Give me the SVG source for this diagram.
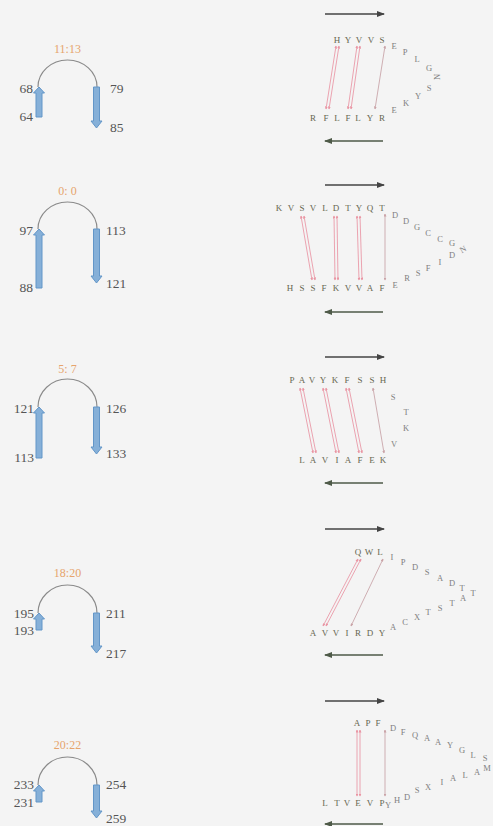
<svg xmlns="http://www.w3.org/2000/svg" width="493" height="826" viewBox="0 0 493 826">
<defs>
<marker id="ah" markerWidth="8" markerHeight="6" refX="7" refY="3" orient="auto" markerUnits="userSpaceOnUse"><path d="M0,0 L8,3 L0,6 z" fill="#444"/></marker>
<marker id="ahg" markerWidth="8" markerHeight="6" refX="7" refY="3" orient="auto" markerUnits="userSpaceOnUse"><path d="M0,0 L8,3 L0,6 z" fill="#4e5a48"/></marker>
<marker id="pm" markerWidth="3" markerHeight="3" refX="2.5" refY="1.5" orient="auto-start-reverse" markerUnits="userSpaceOnUse"><path d="M0,0 L3,1.5 L0,3 z" fill="#e994a2"/></marker>
<marker id="gm" markerWidth="3" markerHeight="3" refX="2.5" refY="1.5" orient="auto-start-reverse" markerUnits="userSpaceOnUse"><path d="M0,0 L3,1.5 L0,3 z" fill="#c9a2a6"/></marker>
</defs>
<style>
.num{font-family:"Liberation Serif",serif;font-size:13.5px;fill:#555}
.nl{text-anchor:end}
.lab{font-family:"Liberation Serif",serif;font-size:12px;fill:#e6a46c;text-anchor:middle}
.arc{fill:none;stroke:#8a8a8a;stroke-width:1.2}
.bl{fill:#86b0d8;stroke:#6396c8;stroke-width:1}
.top{stroke:#444;stroke-width:1.3;marker-end:url(#ah)}
.bot{stroke:#4e5a48;stroke-width:1.3;marker-end:url(#ahg)}
.s{font-family:"Liberation Serif",serif;font-size:9px;fill:#666650;text-anchor:middle}
.l{font-family:"Liberation Serif",serif;font-size:8.5px;fill:#808080;text-anchor:middle}
.p{stroke:#ea9aa8;stroke-width:0.9;fill:none;marker-start:url(#pm);marker-end:url(#pm)}
.g{stroke:#caa6aa;stroke-width:0.9;fill:none;marker-start:url(#gm);marker-end:url(#gm)}
</style>
<rect width="493" height="826" fill="#f4f4f4"/>

<g id="topo1">
<text class="lab" x="67.5" y="53">11:13</text>
<path class="arc" d="M38,87 A29.5,27 0 0 1 97,87"/>
<polygon class="bl" points="36,117 42,117 42,93 44.5,93 39,87 33.5,93 36,93"/>
<polygon class="bl" points="93.5,87 99.5,87 99.5,121 102,121 96.5,128 91,121 93.5,121"/>
<text class="num nl" x="33" y="93">68</text>
<text class="num nl" x="33" y="121">64</text>
<text class="num" x="110" y="93">79</text>
<text class="num" x="110" y="132">85</text>
</g>

<g id="topo2">
<text class="lab" x="67.5" y="195">0: 0</text>
<path class="arc" d="M38,229 A29.5,27 0 0 1 97,229"/>
<polygon class="bl" points="36,288 42,288 42,235 44.5,235 39,229 33.5,235 36,235"/>
<polygon class="bl" points="93.5,229 99.5,229 99.5,276 102,276 96.5,283 91,276 93.5,276"/>
<text class="num nl" x="33" y="235">97</text>
<text class="num nl" x="33" y="292">88</text>
<text class="num" x="106" y="235">113</text>
<text class="num" x="106" y="288">121</text>
</g>

<g id="topo3">
<text class="lab" x="67.5" y="373">5: 7</text>
<path class="arc" d="M38,407 A29.5,28 0 0 1 97,407"/>
<polygon class="bl" points="36,458 42,458 42,413 44.5,413 39,407 33.5,413 36,413"/>
<polygon class="bl" points="93.5,407 99.5,407 99.5,447 102,447 96.5,454 91,447 93.5,447"/>
<text class="num nl" x="34" y="413">121</text>
<text class="num nl" x="34" y="462">113</text>
<text class="num" x="106" y="413">126</text>
<text class="num" x="106" y="458">133</text>
</g>

<g id="topo4">
<text class="lab" x="67.5" y="577">18:20</text>
<path class="arc" d="M38,613 A29.5,28 0 0 1 97,613"/>
<polygon class="bl" points="36,630 42,630 42,619 44.5,619 39,613 33.5,619 36,619"/>
<polygon class="bl" points="93.5,613 99.5,613 99.5,646 102,646 96.5,653 91,646 93.5,646"/>
<text class="num nl" x="34" y="618">195</text>
<text class="num nl" x="34" y="635">193</text>
<text class="num" x="106" y="618">211</text>
<text class="num" x="106" y="658">217</text>
</g>

<g id="topo5">
<text class="lab" x="67.5" y="749">20:22</text>
<path class="arc" d="M38,785 A29.5,28 0 0 1 97,785"/>
<polygon class="bl" points="36,802 42,802 42,791 44.5,791 39,785 33.5,791 36,791"/>
<polygon class="bl" points="93.5,785 99.5,785 99.5,811 102,811 96.5,818 91,811 93.5,811"/>
<text class="num nl" x="34" y="789">233</text>
<text class="num nl" x="34" y="807">231</text>
<text class="num" x="106" y="789">254</text>
<text class="num" x="106" y="823">259</text>
</g>

<g id="seq1">
<text class="s" x="337" y="43">H</text><text class="s" x="348" y="43">Y</text><text class="s" x="359" y="43">V</text><text class="s" x="371" y="43">V</text><text class="s" x="382" y="43">S</text>
<text class="l" x="394" y="49">E</text><text class="l" x="405" y="55">P</text><text class="l" x="417" y="62">L</text><text class="l" x="429" y="71">G</text>
<text class="l" x="440" y="77" transform="rotate(-90 440 77)">N</text>
<text class="l" x="429" y="91">S</text><text class="l" x="418" y="99">Y</text><text class="l" x="406" y="106">K</text><text class="l" x="394" y="113">E</text>
<text class="s" x="313" y="121">R</text><text class="s" x="326" y="121">F</text><text class="s" x="337" y="121">L</text><text class="s" x="348" y="121">F</text><text class="s" x="358" y="121">L</text><text class="s" x="370" y="121">Y</text><text class="s" x="382" y="121">R</text>
</g>

<g id="seq2">
<text class="s" x="279" y="211">K</text><text class="s" x="291" y="211">V</text><text class="s" x="302" y="211">S</text><text class="s" x="313" y="211">V</text><text class="s" x="325" y="211">L</text><text class="s" x="336" y="211">D</text><text class="s" x="348" y="211">T</text><text class="s" x="359" y="211">Y</text><text class="s" x="370" y="211">Q</text><text class="s" x="382" y="211">T</text>
<text class="l" x="395" y="218">D</text><text class="l" x="406" y="224">D</text><text class="l" x="417" y="230">G</text><text class="l" x="428" y="236">C</text><text class="l" x="440" y="242">C</text><text class="l" x="452" y="246">G</text>
<text class="l" x="463" y="252" transform="rotate(-30 463 249)">N</text>
<text class="l" x="452" y="258">D</text><text class="l" x="440" y="265">I</text><text class="l" x="428" y="271">F</text><text class="l" x="418" y="276">S</text><text class="l" x="407" y="281">R</text><text class="l" x="395" y="288">E</text>
<text class="s" x="290" y="291">H</text><text class="s" x="302" y="291">S</text><text class="s" x="313" y="291">S</text><text class="s" x="324" y="291">F</text><text class="s" x="336" y="291">K</text><text class="s" x="348" y="291">V</text><text class="s" x="359" y="291">V</text><text class="s" x="370" y="291">A</text><text class="s" x="382" y="291">F</text>
</g>

<g id="seq3">
<text class="s" x="292" y="383">P</text><text class="s" x="302" y="383">A</text><text class="s" x="312" y="383">V</text><text class="s" x="323" y="383">Y</text><text class="s" x="335" y="383">K</text><text class="s" x="347" y="383">F</text><text class="s" x="360" y="383">S</text><text class="s" x="372" y="383">S</text><text class="s" x="383" y="383">H</text>
<text class="l" x="393" y="400">S</text><text class="l" x="406" y="415">T</text><text class="l" x="406" y="431">K</text><text class="l" x="394" y="447">V</text>
<text class="s" x="302" y="463">L</text><text class="s" x="313" y="463">A</text><text class="s" x="325" y="463">V</text><text class="s" x="337" y="463">I</text><text class="s" x="348" y="463">A</text><text class="s" x="360" y="463">F</text><text class="s" x="372" y="463">E</text><text class="s" x="383" y="463">K</text>
</g>

<g id="seq4">
<text class="s" x="358" y="555">Q</text><text class="s" x="369" y="555">W</text><text class="s" x="380" y="555">L</text>
<text class="l" x="392" y="560">I</text><text class="l" x="403" y="565">P</text><text class="l" x="415" y="570">D</text><text class="l" x="427" y="575">S</text><text class="l" x="440" y="581">A</text><text class="l" x="452" y="586">D</text><text class="l" x="462" y="591">T</text><text class="l" x="473" y="596">T</text>
<text class="l" x="463" y="601">A</text><text class="l" x="452" y="606">T</text><text class="l" x="440" y="611">S</text><text class="l" x="428" y="615">T</text><text class="l" x="417" y="620">X</text><text class="l" x="405" y="625">C</text><text class="l" x="393" y="630">A</text>
<text class="s" x="313" y="636">A</text><text class="s" x="325" y="636">V</text><text class="s" x="336" y="636">V</text><text class="s" x="347" y="636">I</text><text class="s" x="358" y="636">R</text><text class="s" x="370" y="636">D</text><text class="s" x="382" y="636">Y</text>
</g>

<g id="seq5">
<text class="s" x="357" y="726">A</text><text class="s" x="368" y="726">P</text><text class="s" x="378" y="726">F</text>
<text class="l" x="393" y="731">D</text><text class="l" x="403" y="735">F</text><text class="l" x="415" y="738">Q</text><text class="l" x="427" y="741">A</text><text class="l" x="438" y="745">A</text><text class="l" x="450" y="748">Y</text><text class="l" x="462" y="753">G</text><text class="l" x="473" y="758">L</text><text class="l" x="485" y="761">S</text>
<text class="l" x="487" y="771">M</text><text class="l" x="477" y="775">A</text><text class="l" x="465" y="778">L</text><text class="l" x="453" y="781">A</text><text class="l" x="442" y="785">I</text><text class="l" x="428" y="790">X</text><text class="l" x="417" y="793">S</text><text class="l" x="407" y="800">D</text><text class="l" x="397" y="803">H</text><text class="l" x="388" y="808">Y</text>
<text class="s" x="325" y="806">L</text><text class="s" x="337" y="806">T</text><text class="s" x="347" y="806">V</text><text class="s" x="358" y="806">E</text><text class="s" x="370" y="806">V</text><text class="s" x="382" y="806">P</text>
</g>

<g id="connectors">
<line class="top" x1="325" y1="14" x2="384" y2="14"/>
<line class="bot" x1="383" y1="141" x2="325" y2="141"/>
<line class="p" x1="336" y1="46" x2="326" y2="109"/>
<line class="p" x1="339" y1="46" x2="329" y2="109"/>
<line class="p" x1="357" y1="46" x2="348" y2="109"/>
<line class="p" x1="360" y1="46" x2="351" y2="109"/>
<line class="g" x1="385" y1="46" x2="375" y2="109"/>

<line class="top" x1="325" y1="185" x2="384" y2="185"/>
<line class="bot" x1="383" y1="312" x2="325" y2="312"/>
<line class="p" x1="301" y1="216" x2="312" y2="280"/>
<line class="p" x1="304" y1="216" x2="315" y2="280"/>
<line class="p" x1="334" y1="216" x2="335" y2="280"/>
<line class="p" x1="337" y1="216" x2="338" y2="280"/>
<line class="p" x1="357" y1="216" x2="359" y2="280"/>
<line class="p" x1="360" y1="216" x2="362" y2="280"/>
<line class="g" x1="385" y1="214" x2="385" y2="280"/>

<line class="top" x1="325" y1="357" x2="384" y2="357"/>
<line class="bot" x1="383" y1="483" x2="325" y2="483"/>
<line class="p" x1="300" y1="388" x2="313" y2="453"/>
<line class="p" x1="303" y1="388" x2="316" y2="453"/>
<line class="p" x1="323" y1="388" x2="336" y2="453"/>
<line class="p" x1="326" y1="388" x2="339" y2="453"/>
<line class="p" x1="346" y1="388" x2="359" y2="453"/>
<line class="p" x1="349" y1="388" x2="362" y2="453"/>
<line class="g" x1="373" y1="388" x2="384" y2="453"/>

<line class="top" x1="325" y1="529" x2="384" y2="529"/>
<line class="bot" x1="383" y1="655" x2="325" y2="655"/>
<line class="p" x1="358" y1="559" x2="323" y2="626"/>
<line class="p" x1="361" y1="559" x2="326" y2="626"/>
<line class="g" x1="383" y1="559" x2="351" y2="626"/>

<line class="top" x1="325" y1="701" x2="384" y2="701"/>
<line class="bot" x1="383" y1="824" x2="325" y2="824"/>
<line class="p" x1="357" y1="730" x2="357" y2="796"/>
<line class="p" x1="360" y1="730" x2="360" y2="796"/>
<line class="g" x1="385" y1="730" x2="385" y2="796"/>
</g>
</svg>
